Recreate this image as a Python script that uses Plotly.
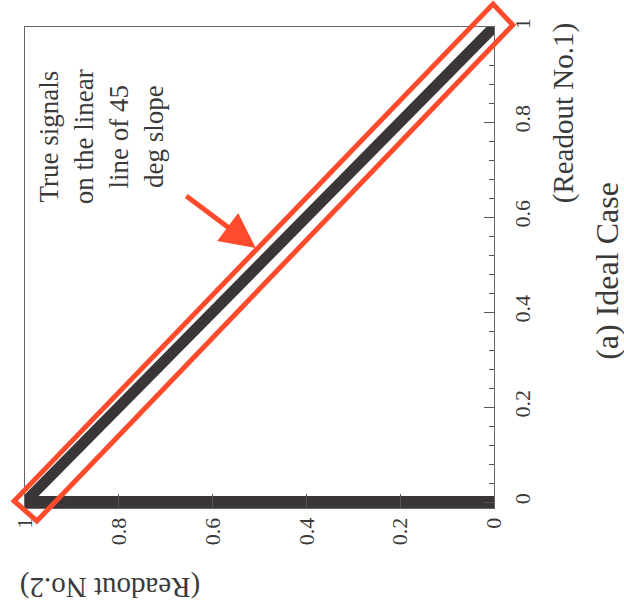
import plotly.graph_objects as go

# ---- data (figure is drawn rotated 90 deg CCW, as in the reference) ----
readout2_diag = [1.0, 0.0]
readout1_diag = [0.0, 1.0]
readout2_base = [1.0, 0.0]
readout1_base = [0.0, 0.0]

tick_vals = [0, 0.2, 0.4, 0.6, 0.8, 1]
tick_text = ["0", "0.2", "0.4", "0.6", "0.8", "1"]

W, H = 624, 615
L, R, T, B = 20, 494, 27, 508   # plot area in pixels


def px(xp):
    return (xp - L) / (R - L)


def py(yp):
    return (B - yp) / (B - T)


FONT = "Liberation Serif"
TXT = "#3a3a3a"
INK = "#3a3536"
RED = "#ff4b2b"

fig = go.Figure()
fig.add_trace(go.Scatter(x=readout2_base, y=readout1_base, mode="lines",
                         line=dict(color=INK, width=12), showlegend=False,
                         hoverinfo="skip"))
fig.add_trace(go.Scatter(x=readout2_diag, y=readout1_diag, mode="lines",
                         line=dict(color=INK, width=11), showlegend=False,
                         hoverinfo="skip"))

axis_common = dict(
    showgrid=False, zeroline=False, showline=True, linecolor="#666666",
    linewidth=1, mirror=True, tickvals=tick_vals, ticktext=tick_text,
    tickangle=-90, tickfont=dict(family=FONT, size=22, color=TXT),
    ticks="inside", tickcolor="#555555",
)

fig.update_layout(
    width=W, height=H,
    margin=dict(l=L, r=W - R, t=T, b=H - B, pad=0),
    paper_bgcolor="white", plot_bgcolor="white",
    xaxis=dict(range=[1, 0], ticklen=14, ticklabelstandoff=0,
               **axis_common),
    yaxis=dict(range=[-0.0126, 1], side="right", ticklen=10,
               ticklabelstandoff=9,
               minor=dict(dtick=0.04, ticks="inside", ticklen=5,
                          tickcolor="#555555"),
               **axis_common),
)

# red rotated rectangle around the diagonal
A, Bc, C, D = (493, 4), (513, 25), (32, 521), (9, 501)
path = "M {} {} L {} {} L {} {} L {} {} Z".format(
    px(A[0]), py(A[1]), px(Bc[0]), py(Bc[1]),
    px(C[0]), py(C[1]), px(D[0]), py(D[1]))
fig.add_shape(type="path", path=path, xref="paper", yref="paper",
              line=dict(color=RED, width=5))

# arrow
fig.add_annotation(x=0.508, y=0.535, xref="x", yref="y", text="",
                   showarrow=True, ax=-71, ay=-53, arrowhead=2,
                   arrowsize=1.4, arrowwidth=5, arrowcolor=RED, standoff=0)

# texts
def label(text, x, y, size, angle):
    fig.add_annotation(x=px(x), y=py(y), xref="paper", yref="paper",
                       xanchor="center", yanchor="middle",
                       text=text, showarrow=False, textangle=angle,
                       align="center",
                       font=dict(family=FONT, size=size, color=TXT))


label("True signals<br>on the linear<br>line of 45<br>deg slope", 97, 137, 27, -90)
label("(Readout No.1)", 564, 113, 29, -90)
label("(a) Ideal Case", 608, 271, 32, -90)
label("(Readout No.2)", 106, 588, 29, 180)

fig.write_html("out.html")
